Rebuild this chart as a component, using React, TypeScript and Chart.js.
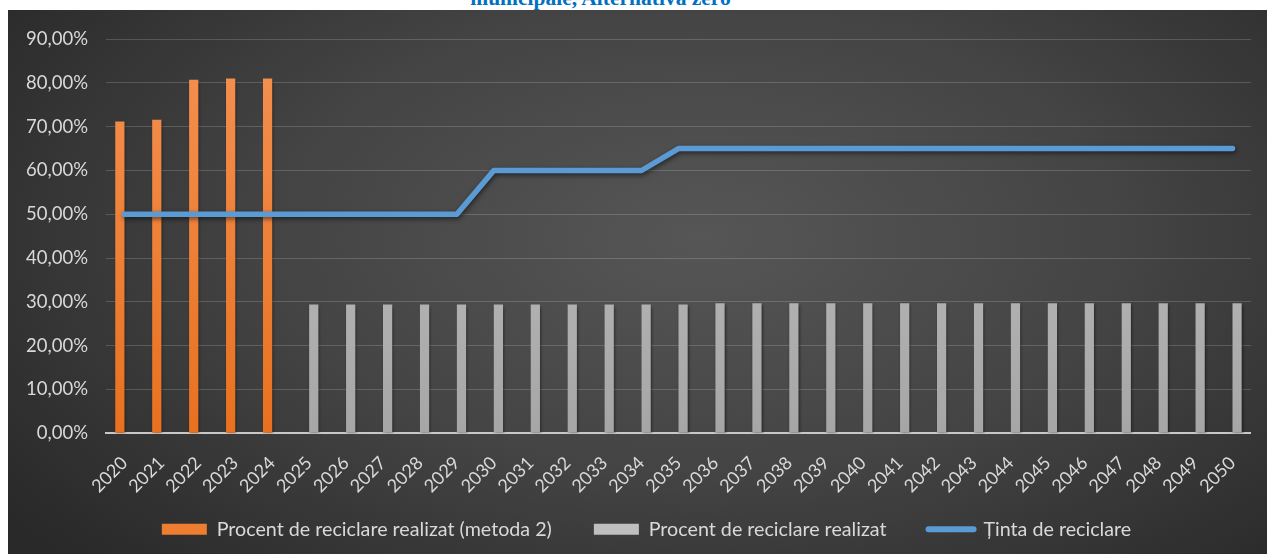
import React, { useEffect, useRef } from "react";
import { Chart, registerables } from "chart.js";

Chart.register(...registerables);

const TITLE_TAIL = "municipale, Alternativa zero";

const YEARS = [
  "2020", "2021", "2022", "2023", "2024", "2025", "2026", "2027", "2028", "2029",
  "2030", "2031", "2032", "2033", "2034", "2035", "2036", "2037", "2038", "2039",
  "2040", "2041", "2042", "2043", "2044", "2045", "2046", "2047", "2048", "2049", "2050",
];

const LABEL_METODA2 = "Procent de reciclare realizat (metoda 2)";
const LABEL_REALIZAT = "Procent de reciclare realizat";
const LABEL_TINTA = "Ținta de reciclare";

const METODA2 = [
  71.2, 71.6, 80.7, 81.0, 81.0, null, null, null, null, null,
  null, null, null, null, null, null, null, null, null, null,
  null, null, null, null, null, null, null, null, null, null, null,
];

const REALIZAT = [
  null, null, null, null, null, 29.4, 29.4, 29.4, 29.4, 29.4,
  29.4, 29.4, 29.4, 29.4, 29.4, 29.4, 29.7, 29.7, 29.7, 29.7,
  29.7, 29.7, 29.7, 29.7, 29.7, 29.7, 29.7, 29.7, 29.7, 29.7, 29.7,
];

const TINTA = [
  50, 50, 50, 50, 50, 50, 50, 50, 50, 50,
  60, 60, 60, 60, 60, 65, 65, 65, 65, 65,
  65, 65, 65, 65, 65, 65, 65, 65, 65, 65, 65,
];

const Y_MIN = 0;
const Y_MAX = 90;
const Y_STEP = 10;

const ORANGE = "#ED7D31";
const GRAY = "#A5A5A5";
const BLUE = "#5B9BD5";
const TEXT = "#D9D9D9";
const FONT = "Lato, 'Open Sans', sans-serif";

const LEGEND_SHIFT = 17;

function vGrad(chart: any, top: string, bottom: string, fallback: string) {
  const area = chart.chartArea;
  if (!area) return fallback;
  const g = chart.ctx.createLinearGradient(0, area.top, 0, area.bottom);
  g.addColorStop(0, top);
  g.addColorStop(1, bottom);
  return g;
}

export default function App() {
  const ref = useRef<HTMLCanvasElement | null>(null);

  useEffect(() => {
    if (!ref.current) return;

    const shadowPlugin = {
      id: "shadowPlugin",
      beforeDatasetDraw(chart: any, args: any) {
        const ctx = chart.ctx;
        ctx.save();
        ctx.shadowColor = "rgba(0,0,0,0.55)";
        ctx.shadowBlur = args.index === 2 ? 5 : 3;
        ctx.shadowOffsetX = 1;
        ctx.shadowOffsetY = 2;
      },
      afterDatasetDraw(chart: any) {
        chart.ctx.restore();
      },
    };

    const layoutTweak = {
      id: "layoutTweak",
      afterLayout(chart: any) {
        // let the rotated year labels extend into the (empty) space above the legend
        if (chart.scales && chart.scales.x) {
          chart.scales.x.bottom = chart.height;
        }
      },
      afterUpdate(chart: any) {
        if (chart.legend) {
          chart.legend.left += LEGEND_SHIFT;
          chart.legend.right += LEGEND_SHIFT;
        }
      },
    };

    const legendColors = [ORANGE, "#BFBFBF", BLUE];

    const chart = new Chart(ref.current, {
      type: "bar",
      data: {
        labels: YEARS,
        datasets: [
          {
            type: "bar",
            label: LABEL_METODA2,
            data: METODA2,
            backgroundColor: (c: any) => vGrad(c.chart, "#F59152", "#E8711F", ORANGE),
            barPercentage: 1,
            categoryPercentage: 0.5,
            order: 2,
          },
          {
            type: "bar",
            label: LABEL_REALIZAT,
            data: REALIZAT,
            backgroundColor: (c: any) => vGrad(c.chart, "#C4C4C4", "#A6A6A6", GRAY),
            barPercentage: 1,
            categoryPercentage: 0.5,
            order: 3,
          },
          {
            type: "line",
            label: LABEL_TINTA,
            data: TINTA,
            borderColor: BLUE,
            backgroundColor: BLUE,
            borderWidth: 5.5,
            pointRadius: 0,
            tension: 0,
            borderCapStyle: "round",
            borderJoinStyle: "round",
            order: 1,
          },
        ],
      } as any,
      options: {
        animation: false,
        responsive: true,
        maintainAspectRatio: false,
        layout: { padding: { left: 0, top: 25, right: 16, bottom: 5 } },
        plugins: {
          tooltip: { enabled: false },
          title: { display: false },
          legend: {
            position: "bottom",
            labels: {
              color: TEXT,
              font: { family: FONT, size: 19.7 },
              usePointStyle: true,
              pointStyleWidth: 45,
              boxHeight: 11,
              padding: 42,
              generateLabels: (chart: any) =>
                chart.data.datasets.map((ds: any, i: number) => ({
                  text: ds.label,
                  fillStyle: legendColors[i],
                  strokeStyle: legendColors[i],
                  lineWidth: i === 2 ? 6 : 0,
                  lineCap: "round",
                  pointStyle: i === 2 ? "line" : "rect",
                  fontColor: TEXT,
                  hidden: false,
                  datasetIndex: i,
                })),
            },
          },
        },
        scales: {
          x: {
            grid: { display: false, drawTicks: false },
            border: { display: true, color: "#C8C8C8", width: 2 },
            ticks: {
              color: TEXT,
              font: { family: FONT, size: 18 },
              minRotation: 45,
              maxRotation: 45,
              autoSkip: false,
              padding: 19,
            },
            afterFit: (s: any) => {
              s.height = 44;
            },
          },
          y: {
            min: Y_MIN,
            max: Y_MAX,
            grid: { color: "rgba(255,255,255,0.17)", lineWidth: 1, drawTicks: false },
            border: { display: false },
            ticks: {
              stepSize: Y_STEP,
              color: TEXT,
              font: { family: FONT, size: 18.5 },
              padding: 18,
              callback: (v: any) => Number(v).toFixed(2).replace(".", ",") + "%",
            },
            afterFit: (s: any) => {
              s.width = 98;
            },
          },
        },
      },
      plugins: [shadowPlugin, layoutTweak],
    } as any);

    return () => chart.destroy();
  }, []);

  return (
    <div
      style={{
        position: "absolute",
        left: 0,
        top: 0,
        width: 1267,
        height: 554,
        overflow: "hidden",
        background: "#ffffff",
      }}
    >
      <div
        style={{
          position: "absolute",
          left: 0,
          top: -12,
          width: 1201,
          textAlign: "center",
          fontFamily: "'Liberation Serif', 'Times New Roman', serif",
          fontWeight: "bold",
          fontSize: 21.5,
          lineHeight: "21.5px",
          color: "#0070C0",
          whiteSpace: "nowrap",
        }}
      >
        {TITLE_TAIL}
      </div>
      <div
        style={{
          position: "absolute",
          left: 8,
          top: 10,
          width: 1259,
          height: 544,
          background:
            "radial-gradient(ellipse 75% 95% at 55% 42%, #565656 0%, #444444 45%, #2c2c2c 85%, #262626 100%)",
        }}
      >
        <canvas ref={ref} />
      </div>
    </div>
  );
}
